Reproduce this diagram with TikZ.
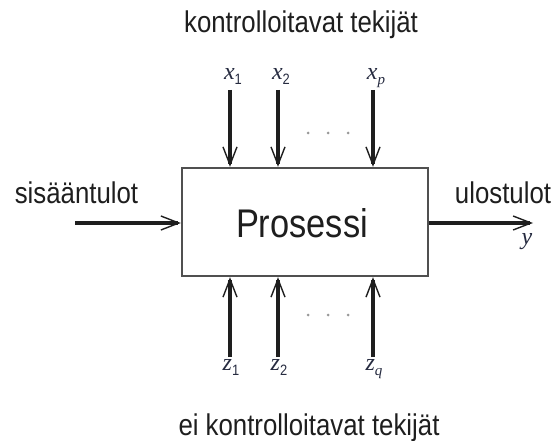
\documentclass[tikz,border=0pt]{standalone}
\usepackage{fontspec}
\setmainfont{Liberation Sans}
\newfontfamily\labfont[FakeStretch=0.86]{Liberation Sans}
\newfontfamily\mathlab{Liberation Serif}
\usetikzlibrary{arrows.meta}
\definecolor{ink}{HTML}{1E1E1E}
\definecolor{boxline}{HTML}{505050}
\definecolor{mathink}{HTML}{262B40}
\newcommand{\mlab}[2]{{\mathlab\itshape #1}\raisebox{-5pt}{\labfont\fontsize{15}{15}\selectfont #2}}
\newcommand{\mlabi}[2]{{\mathlab\itshape #1}\raisebox{-5pt}{\mathlab\itshape\fontsize{15}{15}\selectfont #2}}
\tikzset{
  arr/.style={line width=3.2pt, color=ink, -{Straight Barb[length=18pt,width=14pt,line width=1.4pt]}},
  lbl/.style={anchor=base, inner sep=0pt, text=ink, font=\labfont\fontsize{30}{30}\selectfont},
  mlbl/.style={anchor=base, inner sep=0pt, text=mathink, font=\fontsize{24}{24}\selectfont},
  dotmark/.style={fill=gray!80, draw=none},
  procbox/.style={draw=boxline, line width=2.4pt, fill=white, minimum width=246pt, minimum height=108pt, inner sep=0pt}
}
\begin{document}
\begin{tikzpicture}[x=1pt,y=-1pt]
\useasboundingbox (0,0) rectangle (557,441);
% box
\node[procbox] (box) at (305,222) {};
\node[anchor=base, inner sep=0pt, text=ink, font=\labfont\fontsize{40}{40}\selectfont] (ptext) at (302,237) {Prosessi};
% titles
\node[lbl] (ttop) at (301,33) {kontrolloitavat tekijät};
\node[lbl] (tbot) at (309,435) {ei kontrolloitavat tekijät};
\node[lbl] (tin) at (76.5,203) {sisääntulot};
\node[lbl] (tout) at (503,203) {ulostulot};
% top inputs
\coordinate (x1s) at (230,90);
\coordinate (x2s) at (278,90);
\coordinate (xps) at (373,90);
\draw[arr] (x1s) -- (x1s |- box.north);
\draw[arr] (x2s) -- (x2s |- box.north);
\draw[arr] (xps) -- (xps |- box.north);
\node[mlbl] (lx1) at (233,80) {\mlab{x}{1}};
\node[mlbl] (lx2) at (281,80) {\mlab{x}{2}};
\node[mlbl] (lxp) at (376,80) {\mlabi{x}{p}};
% bottom inputs
\coordinate (z1s) at (230,357);
\coordinate (z2s) at (278,357);
\coordinate (zqs) at (373,357);
\draw[arr] (z1s) -- (z1s |- box.south);
\draw[arr] (z2s) -- (z2s |- box.south);
\draw[arr] (zqs) -- (zqs |- box.south);
\node[mlbl] (lz1) at (231,370) {\mlab{z}{1}};
\node[mlbl] (lz2) at (279,370) {\mlab{z}{2}};
\node[mlbl] (lzq) at (374,370) {\mlabi{z}{q}};
% dots
\foreach \xx in {308,328,348} {
  \fill[dotmark] (\xx,133) circle (1.5pt);
  \fill[dotmark] (\xx,315) circle (1.5pt);
}
% left input, right output
\coordinate (ins) at (75,223);
\coordinate (oute) at (533,223);
\draw[arr] (ins) -- (ins -| box.west);
\draw[arr] (box.east |- oute) -- (oute);
\node[mlbl] (ly) at (527,244) {{\mathlab\itshape y}};
\end{tikzpicture}
\end{document}
